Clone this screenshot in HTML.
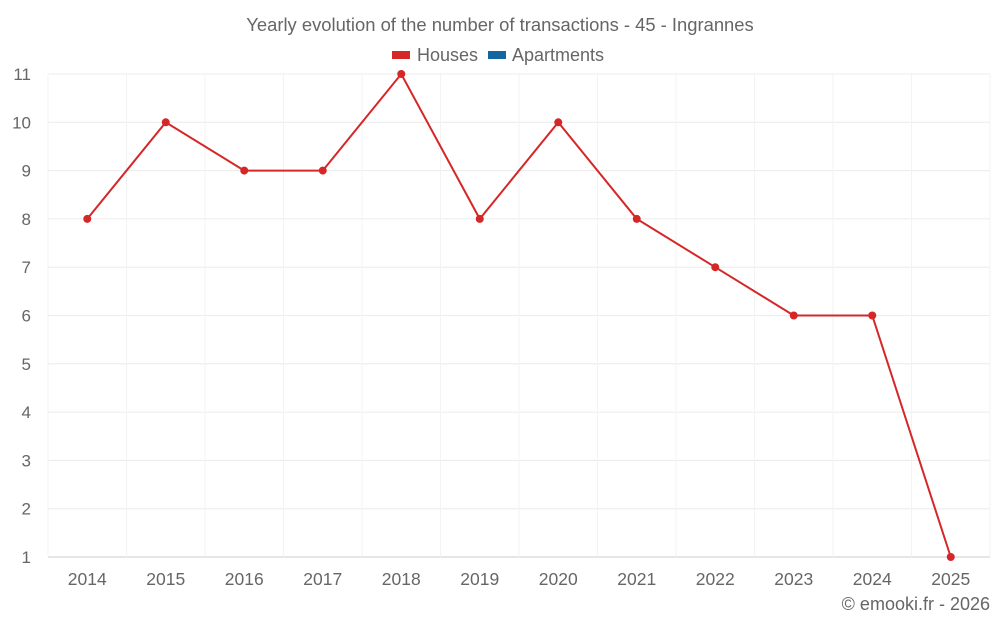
<!DOCTYPE html>
<html><head><meta charset="utf-8"><style>
body{margin:0;background:#fff;font-family:"Liberation Sans",sans-serif}
svg text{font-family:"Liberation Sans",sans-serif}
</style></head><body>
<svg id="c" width="1000" height="625">
<text x="500" y="31" text-anchor="middle" font-size="18.4" fill="#666">Yearly evolution of the number of transactions - 45 - Ingrannes</text>
<g>
<g><rect x="392" y="51" width="18" height="8" fill="#d62728"/><text x="417" y="61" font-size="18" fill="#666">Houses</text></g>
<g><rect x="488" y="51" width="18" height="8" fill="#1565a0"/><text x="512" y="61" font-size="18" fill="#666">Apartments</text></g>
</g>
<g id="grid"></g><g id="ax"></g><g id="marks"></g>
<text x="990" y="610" text-anchor="end" font-size="18" fill="#666">© emooki.fr - 2026</text>
</svg>
<script>
const years=[2014,2015,2016,2017,2018,2019,2020,2021,2022,2023,2024,2025];
const houses=[8,10,9,9,11,8,10,8,7,6,6,1];
const yTicks=[1,2,3,4,5,6,7,8,9,10,11];
const L=48,R=990,T=74,B=557,yMin=1,yMax=11;
const bw=(R-L)/years.length;
const xs=i=>L+bw*(i+0.5);
const ys=v=>B-(v-yMin)/(yMax-yMin)*(B-T);
const NS="http://www.w3.org/2000/svg";
function mk(t,a,p){const e=document.createElementNS(NS,t);for(const k in a)e.setAttribute(k,a[k]);p.appendChild(e);return e;}
const g=document.getElementById('grid'),ax=document.getElementById('ax'),m=document.getElementById('marks');
yTicks.forEach(v=>{
 const l=mk('line',{x1:L,x2:R,y1:ys(v),y2:ys(v),stroke:v===yMin?'#ccc':'#ececec'},g);
 
 
 const t=mk('text',{x:31,y:ys(v)+6,'text-anchor':'end','font-size':17,fill:'#666'},ax);t.textContent=v;
 
 
});
years.forEach((y,i)=>{
 const l=mk('line',{x1:L+bw*i,x2:L+bw*i,y1:T,y2:B,stroke:'#f3f3f3'},g);
 
 
 const t=mk('text',{x:xs(i),y:585,'text-anchor':'middle','font-size':17.5,fill:'#666'},ax);t.textContent=y;
 
 
});
mk('line',{x1:R,x2:R,y1:T,y2:B,stroke:'#f3f3f3'},g);
const p=mk('polyline',{points:houses.map((v,i)=>xs(i)+','+ys(v)).join(' '),fill:'none',stroke:'#d62728','stroke-width':2},m);


houses.forEach((v,i)=>{
 const c=mk('circle',{cx:xs(i),cy:ys(v),r:4,fill:'#d62728'},m);
 
 
});
</script>
</body></html>
